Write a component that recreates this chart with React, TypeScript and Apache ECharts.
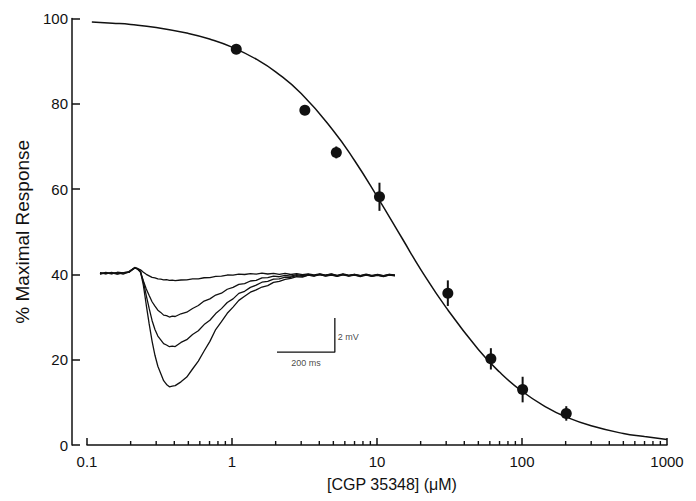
import React, { useEffect, useRef } from "react";
import * as echarts from "echarts";

// Dose-response data
const concentrations = [1.07, 3.18, 5.24, 10.4, 30.8, 61, 101, 202];
const responses = [92.8, 78.5, 68.6, 58.2, 35.6, 20.2, 13.0, 7.4];
const errors = [0.8, 0.8, 1.4, 3.3, 3.0, 2.5, 3.0, 1.7];

// Fitted curve
const fitX = [0.108, 0.15, 0.2, 0.3, 0.5, 0.7, 1, 1.5, 2, 3, 5, 7, 10, 15, 20, 30, 50, 70, 100, 150, 200, 300, 500, 700, 1000];
const fitY = [99.2, 98.9, 98.6, 97.9, 96.5, 95.2, 93.3, 90.3, 87.5, 82.4, 73.7, 66.7, 58.3, 48.3, 41.2, 32.2, 22.4, 17.1, 12.6, 8.7, 6.6, 4.5, 2.7, 2.0, 1.3];

// Axis tick values
const yTicks = [0, 20, 40, 60, 80, 100];
const minorTickValues = [
  0.2, 0.3, 0.4, 0.5, 0.6, 0.7, 0.8, 0.9,
  2, 3, 4, 5, 6, 7, 8, 9,
  20, 30, 40, 50, 60, 70, 80, 90,
  200, 300, 400, 500, 600, 700, 800, 900,
];

// Inset traces (time in ms, potential in mV)
const traceTime = [0, 20, 40, 60, 80, 100, 110, 120, 130, 140, 150, 160, 170, 180, 190, 200, 210, 220, 230, 240, 250, 260,
  280, 300, 320, 340, 360, 380, 400, 420, 440, 460, 480, 500, 520, 540, 560, 580, 600, 620, 640, 660, 680, 700, 720, 740, 760, 780, 800, 820, 840, 860, 880, 900, 920, 940, 960, 980, 1000, 1020];
const trace1 = [0.03, -0.04, 0.05, -0.03, 0.04, 0.07,
  0.18, 0.3, 0.28, 0.2, 0.06, -0.06, -0.15, -0.24, -0.27, -0.33, -0.34, -0.38, -0.37, -0.41, -0.4, -0.43,
  -0.39, -0.38, -0.33, -0.32, -0.26, -0.25, -0.18, -0.17, -0.1, -0.11, -0.05, -0.07, -0.02, -0.05, 0.01, -0.04, 0.0, -0.06, -0.01, -0.07, -0.02, -0.08, -0.03, -0.09, -0.04, -0.1, -0.05, -0.12, -0.04, -0.11, -0.06, -0.13, -0.05, -0.12, -0.07, -0.14, -0.06, -0.1];
const trace2 = [-0.03, 0.05, -0.02, 0.04, -0.05, 0.08,
  0.2, 0.33, 0.25, 0.05, -0.45, -0.92, -1.3, -1.66, -1.92, -2.15, -2.28, -2.44, -2.47, -2.55, -2.5, -2.52,
  -2.36, -2.27, -2.05, -1.88, -1.62, -1.49, -1.27, -1.16, -0.93, -0.82, -0.65, -0.6, -0.45, -0.41, -0.27, -0.25, -0.17, -0.2, -0.12, -0.16, -0.08, -0.14, -0.06, -0.13, -0.07, -0.15, -0.08, -0.16, -0.06, -0.14, -0.09, -0.17, -0.08, -0.15, -0.1, -0.18, -0.09, -0.14];
const trace3 = [0.04, -0.02, 0.03, -0.05, 0.02, 0.1,
  0.22, 0.31, 0.24, 0.12, -0.5, -1.3, -2.05, -2.75, -3.28, -3.66, -3.88, -4.1, -4.18, -4.28, -4.25, -4.27,
  -4.03, -3.87, -3.57, -3.35, -2.99, -2.74, -2.35, -2.06, -1.7, -1.49, -1.17, -1.05, -0.82, -0.69, -0.52, -0.47, -0.34, -0.32, -0.22, -0.23, -0.14, -0.18, -0.1, -0.16, -0.08, -0.17, -0.1, -0.18, -0.09, -0.17, -0.11, -0.19, -0.1, -0.18, -0.12, -0.2, -0.11, -0.15];
const trace4 = [-0.05, 0.03, -0.04, 0.06, 0.03, 0.05,
  0.2, 0.34, 0.27, 0.1, -0.7, -1.85, -2.95, -3.95, -4.78, -5.42, -5.84, -6.26, -6.48, -6.62, -6.58, -6.55,
  -6.33, -6.05, -5.58, -5.12, -4.53, -3.97, -3.28, -2.82, -2.33, -1.97, -1.58, -1.34, -1.1, -0.97, -0.8, -0.72, -0.53, -0.47, -0.35, -0.3, -0.2, -0.22, -0.11, -0.15, -0.05, -0.12, -0.04, -0.13, -0.06, -0.15, -0.07, -0.14, -0.08, -0.16, -0.09, -0.15, -0.07, -0.12];

// Scale bar (ms, mV)
const scaleBarTime = [612, 812];
const scaleBarVolt = [-4.6, -2.6];

const INK = "#111";
const FONT = "'Liberation Sans', Arial, Helvetica, sans-serif";

function zip(xs: number[], ys: number[]) {
  const n = Math.min(xs.length, ys.length);
  const out: number[][] = [];
  for (let i = 0; i < n; i++) out.push([xs[i], ys[i]]);
  return out;
}

export default function App() {
  const ref = useRef<HTMLDivElement>(null);
  useEffect(() => {
    if (!ref.current) return;
    const chart = echarts.init(ref.current, undefined, { renderer: "svg" });
    const traceSeries = [trace1, trace2, trace3, trace4].map((tr, i) => ({
      type: "line",
      name: "trace" + (i + 1),
      xAxisIndex: 1,
      yAxisIndex: 1,
      data: zip(traceTime, tr),
      showSymbol: false,
      symbol: "none",
      lineStyle: { color: INK, width: 1.3 },
      silent: true,
      z: 3,
    }));
    chart.setOption({
      animation: false,
      backgroundColor: "#fff",
      textStyle: { fontFamily: FONT, color: INK },
      grid: [
        { left: 87, right: 29, top: 18.5, bottom: 56 },
        { left: 100, width: 295, top: 256.15, height: 137.2 },
      ],
      xAxis: [
        {
          type: "log",
          logBase: 10,
          min: 0.1,
          max: 1000,
          gridIndex: 0,
          name: "[CGP 35348] (μM)",
          nameLocation: "middle",
          nameGap: 31,
          nameTextStyle: { fontSize: 16, color: INK, fontFamily: FONT, padding: [0, 0, 0, 30] },
          axisLine: { show: true, lineStyle: { color: INK, width: 1.5 } },
          axisTick: { show: true, inside: true, length: 7, lineStyle: { color: INK, width: 1.5 } },
          axisLabel: {
            fontSize: 15,
            color: INK,
            fontFamily: FONT,
            margin: 9,
            formatter: (v: number) => String(+Number(v).toPrecision(6)),
          },
          splitLine: { show: false },
        },
        { type: "value", min: 0, max: 1020, gridIndex: 1, show: false },
      ],
      yAxis: [
        {
          type: "value",
          min: yTicks[0],
          max: yTicks[yTicks.length - 1],
          interval: 20,
          gridIndex: 0,
          offset: 15,
          name: "% Maximal Response",
          nameLocation: "middle",
          nameGap: 38,
          nameTextStyle: { fontSize: 19, color: INK, fontFamily: FONT },
          axisLine: { show: true, lineStyle: { color: INK, width: 1.5 } },
          axisTick: { show: true, inside: true, length: 8, lineStyle: { color: INK, width: 1.5 } },
          axisLabel: { fontSize: 15, color: INK, fontFamily: FONT, margin: 4 },
          splitLine: { show: false },
        },
        { type: "value", min: -7, max: 1, gridIndex: 1, show: false },
      ],
      series: [
        {
          type: "scatter",
          name: "minorTicks",
          xAxisIndex: 0,
          yAxisIndex: 0,
          data: minorTickValues.map((v) => [v, 0]),
          symbol: "rect",
          symbolSize: [1.4, 4],
          symbolOffset: [0, -2],
          itemStyle: { color: INK, opacity: 1 },
          clip: false,
          silent: true,
          z: 4,
        },
        {
          type: "line",
          name: "fit",
          xAxisIndex: 0,
          yAxisIndex: 0,
          data: zip(fitX, fitY),
          smooth: true,
          showSymbol: false,
          symbol: "none",
          lineStyle: { color: INK, width: 1.5 },
          silent: true,
          z: 2,
        },
        {
          type: "custom",
          name: "errors",
          xAxisIndex: 0,
          yAxisIndex: 0,
          data: concentrations.map((c, i) => [c, responses[i], errors[i]]),
          encode: { x: 0, y: 1 },
          renderItem: (params: any, api: any) => {
            const x = api.value(0);
            const y = api.value(1);
            const e = api.value(2);
            const a = api.coord([x, y + e]);
            const b = api.coord([x, y - e]);
            return {
              type: "line",
              shape: { x1: a[0], y1: a[1], x2: b[0], y2: b[1] },
              style: { stroke: INK, lineWidth: 2 },
            };
          },
          silent: true,
          z: 5,
        },
        {
          type: "scatter",
          name: "data",
          xAxisIndex: 0,
          yAxisIndex: 0,
          data: zip(concentrations, responses),
          symbol: "circle",
          symbolSize: 11,
          itemStyle: { color: INK, opacity: 1 },
          silent: true,
          z: 6,
        },
        ...traceSeries,
        {
          type: "line",
          name: "scalebar",
          xAxisIndex: 1,
          yAxisIndex: 1,
          data: [
            [scaleBarTime[0], scaleBarVolt[0]],
            [scaleBarTime[1], scaleBarVolt[0]],
            [scaleBarTime[1], scaleBarVolt[1]],
          ],
          showSymbol: false,
          symbol: "none",
          lineStyle: { color: INK, width: 1.3 },
          silent: true,
          z: 3,
        },
        {
          type: "scatter",
          name: "scalelabels",
          xAxisIndex: 1,
          yAxisIndex: 1,
          symbolSize: 0,
          silent: true,
          data: [
            { value: [scaleBarTime[1] + 10, (scaleBarVolt[0] + scaleBarVolt[1]) / 2 - 0.1], label: { formatter: "2 mV", position: "right", distance: 0 } },
            { value: [(scaleBarTime[0] + scaleBarTime[1]) / 2, scaleBarVolt[0] - 0.65], label: { formatter: "200 ms", position: "inside" } },
          ],
          label: { show: true, fontSize: 9, color: INK, fontFamily: FONT },
          z: 3,
        },
      ],
    });
    return () => chart.dispose();
  }, []);
  return <div ref={ref} style={{ width: 696, height: 501, margin: -8 }} />;
}
